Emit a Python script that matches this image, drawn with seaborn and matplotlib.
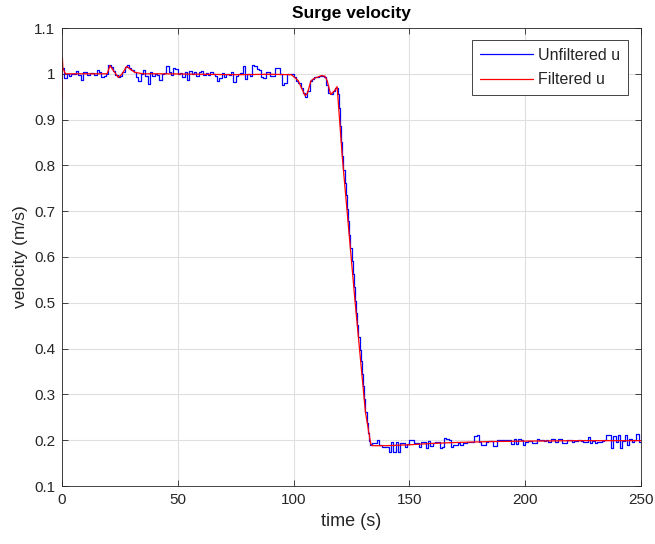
import numpy as np
import pandas as pd
import matplotlib
matplotlib.use("Agg")
import matplotlib.pyplot as plt
import seaborn as sns

# ---- data ----
# sample times: 1 s steps, finer (0.5 s) during the fast deceleration
time_raw = list(range(0, 119)) + [119 + 0.5 * k for k in range(30)] + list(range(134, 251))
u_unfiltered = [
    1.012, 0.990, 1.000, 0.996, 1.000, 1.000, 1.006, 0.998, 0.986, 1.004,
    1.004, 0.997, 1.002, 1.002, 0.998, 1.009, 1.004, 0.994, 0.995, 1.000,
    1.020, 1.014, 1.006, 0.998, 0.994, 0.995, 1.004, 1.014, 1.020, 1.012,
    1.008, 1.005, 0.992, 0.984, 1.000, 1.009, 0.995, 0.978, 1.003, 0.996,
    1.000, 0.998, 0.987, 1.000, 1.002, 1.018, 1.004, 0.998, 1.012, 1.010,
    1.000, 1.002, 0.992, 1.004, 0.987, 1.006, 1.000, 1.004, 0.996, 1.003,
    1.006, 0.998, 1.002, 0.997, 1.005, 1.000, 0.996, 0.985, 0.990, 1.002,
    0.994, 1.000, 0.998, 1.004, 0.983, 0.996, 1.000, 1.002, 1.016, 0.988,
    1.000, 0.996, 1.020, 1.018, 1.010, 1.009, 0.992, 0.990, 1.005, 1.004,
    0.995, 0.996, 1.012, 1.012, 1.000, 0.976, 0.980, 1.000, 1.000, 0.999,
    0.992, 0.985, 0.980, 0.968, 0.958, 0.950, 0.962, 0.985, 0.988, 0.992,
    0.993, 0.995, 0.996, 0.994, 0.975, 0.958, 0.955, 0.962, 0.970,
    # 119.0 .. 133.5 every 0.5 s
    0.955, 0.925, 0.885, 0.852, 0.820, 0.790, 0.762, 0.735, 0.705, 0.678,
    0.648, 0.620, 0.592, 0.563, 0.535, 0.505, 0.478, 0.452, 0.425, 0.398,
    0.372, 0.345, 0.318, 0.290, 0.262, 0.238, 0.215, 0.198, 0.190, 0.192,
    # 134 .. 250
    0.193, 0.193, 0.200, 0.190, 0.185, 0.185,
    0.185, 0.175, 0.195, 0.174, 0.196, 0.174, 0.193, 0.193, 0.186, 0.192,
    0.201, 0.201, 0.193, 0.194, 0.186, 0.195, 0.195, 0.184, 0.198, 0.187,
    0.194, 0.195, 0.196, 0.183, 0.186, 0.204, 0.202, 0.200, 0.186, 0.189,
    0.189, 0.194, 0.189, 0.194, 0.194, 0.195, 0.195, 0.196, 0.210, 0.211,
    0.196, 0.190, 0.190, 0.197, 0.198, 0.198, 0.188, 0.188, 0.201, 0.201,
    0.200, 0.201, 0.200, 0.200, 0.192, 0.203, 0.192, 0.202, 0.201, 0.189,
    0.196, 0.198, 0.198, 0.194, 0.194, 0.202, 0.201, 0.200, 0.198, 0.200,
    0.196, 0.202, 0.202, 0.195, 0.203, 0.203, 0.193, 0.193, 0.201, 0.201,
    0.196, 0.199, 0.199, 0.200, 0.198, 0.196, 0.196, 0.208, 0.194, 0.199,
    0.194, 0.197, 0.197, 0.198, 0.200, 0.212, 0.212, 0.184, 0.210, 0.195,
    0.211, 0.184, 0.198, 0.211, 0.190, 0.202, 0.195, 0.200, 0.213, 0.196,
    0.197,
]

time_filt = [0.0, 0.15, 0.4, 1.5, 5, 10, 15, 19.5, 20.7, 22.5, 24.3, 26, 27.9,
             29.5, 31.5, 35, 45, 60, 75, 90, 99, 100.5, 102, 103.5, 105, 106,
             107.5, 109, 112, 113.5, 114.5, 116, 117.5, 118.8, 121, 126.5,
             131, 133.3, 134, 140, 150, 160, 170, 185, 200, 225, 250]
u_filtered = [0.944, 1.035, 1.012, 1.000, 1.000, 1.000, 1.000, 1.000, 1.018,
              1.005, 0.992, 1.000, 1.016, 1.010, 1.003, 1.000, 1.000, 0.999,
              0.998, 0.999, 0.998, 0.992, 0.985, 0.968, 0.952, 0.958, 0.985,
              0.990, 0.996, 0.995, 0.985, 0.955, 0.962, 0.972, 0.820, 0.505,
              0.262, 0.192, 0.188, 0.188, 0.190, 0.193, 0.195, 0.197, 0.198,
              0.199, 0.199]

x_ticks = [0, 50, 100, 150, 200, 250]
y_ticks = [0.1, 0.2, 0.3, 0.4, 0.5, 0.6, 0.7, 0.8, 0.9, 1.0, 1.1]
y_tick_labels = ["0.1", "0.2", "0.3", "0.4", "0.5", "0.6", "0.7", "0.8", "0.9", "1", "1.1"]

df_raw = pd.DataFrame({"t": time_raw, "u": u_unfiltered})
df_filt = pd.DataFrame({"t": time_filt, "u": u_filtered})

# ---- styling ----
sns.set_theme(style="whitegrid")
plt.rcParams["font.family"] = ["Liberation Sans", "DejaVu Sans"]

fig = plt.figure(figsize=(6.55, 5.44), dpi=100)
ax = fig.add_axes([62 / 655, 1 - 486 / 544, (641 - 62) / 655, (486 - 28) / 544])

sns.lineplot(data=df_raw, x="t", y="u", ax=ax, color="#0000ff", linewidth=0.9,
             drawstyle="steps-post", label="Unfiltered u", sort=False)
sns.lineplot(data=df_filt, x="t", y="u", ax=ax, color="#ff0000", linewidth=0.9,
             label="Filtered u", sort=False)

ax.set_xlim(0, 250)
ax.set_ylim(0.1, 1.1)
ax.set_xticks(x_ticks)
ax.set_xticklabels([str(v) for v in x_ticks])
ax.set_yticks(y_ticks)
ax.set_yticklabels(y_tick_labels)

ax.set_facecolor("white")
ax.grid(True, color="#dfdfdf", linewidth=0.8)
for s in ax.spines.values():
    s.set_visible(True)
    s.set_color("#262626")
    s.set_linewidth(0.6)
ax.tick_params(axis="both", which="both", direction="in", length=4, width=0.6,
               color="#262626", labelsize=11, labelcolor="#262626",
               top=True, right=True, bottom=True, left=True, pad=5)

ax.set_xlabel("time (s)", fontsize=13, color="#262626", labelpad=4)
ax.set_ylabel("velocity (m/s)", fontsize=12.5, color="#262626", labelpad=4)
ax.set_title("Surge velocity", fontsize=12.5, fontweight="bold", color="black", pad=7)

leg = ax.legend(loc="upper right", fontsize=11.5, frameon=True, fancybox=False,
                framealpha=1, edgecolor="#262626", handlelength=3.3,
                borderpad=0.5, labelspacing=0.6, handletextpad=0.3,
                borderaxespad=0, bbox_to_anchor=(0.9775, 0.974))
leg.get_frame().set_linewidth(0.6)

fig.savefig("out.png", dpi=100)
